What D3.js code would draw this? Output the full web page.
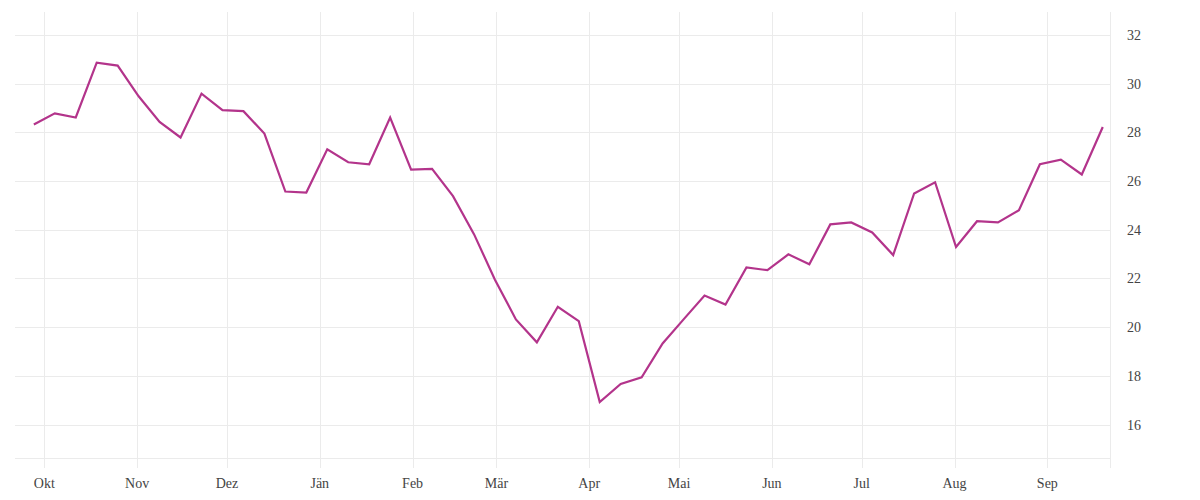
<!DOCTYPE html>
<html>
<head>
<meta charset="utf-8">
<script src="https://cdn.jsdelivr.net/npm/d3@7"></script>
<style>
  body { margin: 0; background: #fff; }
  .tick-label { font-family: "Liberation Serif", serif; font-size: 14px; fill: #444; }
</style>
</head>
<body>
<div id="chart"></div>
<script>
// weekly observations (Thursdays)
var dates = [
  "2018-09-27", "2018-10-04", "2018-10-11", "2018-10-18", "2018-10-25",
  "2018-11-01", "2018-11-08", "2018-11-15", "2018-11-22", "2018-11-29",
  "2018-12-06", "2018-12-13", "2018-12-20", "2018-12-27",
  "2019-01-03", "2019-01-10", "2019-01-17", "2019-01-24", "2019-01-31",
  "2019-02-07", "2019-02-14", "2019-02-21", "2019-02-28",
  "2019-03-07", "2019-03-14", "2019-03-21", "2019-03-28",
  "2019-04-04", "2019-04-11", "2019-04-18", "2019-04-25",
  "2019-05-02", "2019-05-09", "2019-05-16", "2019-05-23", "2019-05-30",
  "2019-06-06", "2019-06-13", "2019-06-20", "2019-06-27",
  "2019-07-04", "2019-07-11", "2019-07-18", "2019-07-25",
  "2019-08-01", "2019-08-08", "2019-08-15", "2019-08-22", "2019-08-29",
  "2019-09-05", "2019-09-12", "2019-09-19"
];
var values = [
  28.32, 28.78, 28.61, 30.86, 30.74,
  29.48, 28.43, 27.79, 29.59, 28.91,
  28.87, 27.95, 25.57, 25.53,
  27.30, 26.77, 26.69, 28.61, 26.47,
  26.50, 25.38, 23.82, 21.95,
  20.32, 19.38, 20.84, 20.25,
  16.93, 17.67, 17.94, 19.33,
  20.32, 21.30, 20.93, 22.45, 22.34,
  22.99, 22.58, 24.22, 24.30,
  23.89, 22.96, 25.49, 25.95,
  23.29, 24.35, 24.30, 24.80, 26.69,
  26.88, 26.27, 28.22
];
var monthLabels = ["Okt", "Nov", "Dez", "Jän", "Feb", "Mär", "Apr", "Mai", "Jun", "Jul", "Aug", "Sep"];
var yTicks = [16, 18, 20, 22, 24, 26, 28, 30, 32];

var W = 1200, H = 500;
var plot = {left: 15, right: 1110, top: 12, bottom: 458, tickEnd: 468};

// observations are stamped at midday
var parse = d3.timeParse("%Y-%m-%d %H");
var data = dates.map(function (d, i) { return {date: parse(d + " 12"), value: values[i]}; });

var x = d3.scaleTime()
    .domain([new Date(2018, 8, 21, 5), new Date(2019, 8, 21, 22)])
    .range([plot.left, plot.right]);
var y = d3.scaleLinear()
    .domain([14.63, 32.94])
    .range([plot.bottom, plot.top]);

var monthTicks = d3.timeMonth.range(new Date(2018, 9, 1), new Date(2019, 9, 1));

var svg = d3.select("#chart").append("svg")
    .attr("width", W)
    .attr("height", H);

var grid = svg.append("g")
    .attr("stroke", "#ebebeb")
    .attr("stroke-width", 1)
    .attr("shape-rendering", "crispEdges");

// horizontal grid lines
grid.selectAll("line.h")
    .data(yTicks.concat([y.domain()[0]]))
    .enter().append("line")
    .attr("class", "h")
    .attr("x1", plot.left)
    .attr("x2", plot.right)
    .attr("y1", function (d) { return Math.round(y(d)) + 0.5; })
    .attr("y2", function (d) { return Math.round(y(d)) + 0.5; });

// vertical grid lines at month starts
grid.selectAll("line.v")
    .data(monthTicks)
    .enter().append("line")
    .attr("class", "v")
    .attr("x1", function (d) { return Math.round(x(d)) + 0.5; })
    .attr("x2", function (d) { return Math.round(x(d)) + 0.5; })
    .attr("y1", plot.top)
    .attr("y2", plot.tickEnd);

// right edge
grid.append("line")
    .attr("x1", plot.right + 0.5)
    .attr("x2", plot.right + 0.5)
    .attr("y1", plot.top)
    .attr("y2", plot.tickEnd);

// x labels
svg.append("g").selectAll("text")
    .data(monthTicks)
    .enter().append("text")
    .attr("class", "tick-label")
    .attr("text-anchor", "middle")
    .attr("x", function (d) { return x(d); })
    .attr("y", 488)
    .text(function (d, i) { return monthLabels[i]; });

// y labels
svg.append("g").selectAll("text")
    .data(yTicks)
    .enter().append("text")
    .attr("class", "tick-label")
    .attr("x", 1127)
    .attr("y", function (d) { return y(d); })
    .attr("dy", "0.35em")
    .text(function (d) { return d; });

// the line
var line = d3.line()
    .x(function (d) { return x(d.date); })
    .y(function (d) { return y(d.value); });

svg.append("path")
    .datum(data)
    .attr("fill", "none")
    .attr("stroke", "#b3348b")
    .attr("stroke-width", 2.2)
    .attr("stroke-linejoin", "miter")
    .attr("d", line);
</script>
</body>
</html>
